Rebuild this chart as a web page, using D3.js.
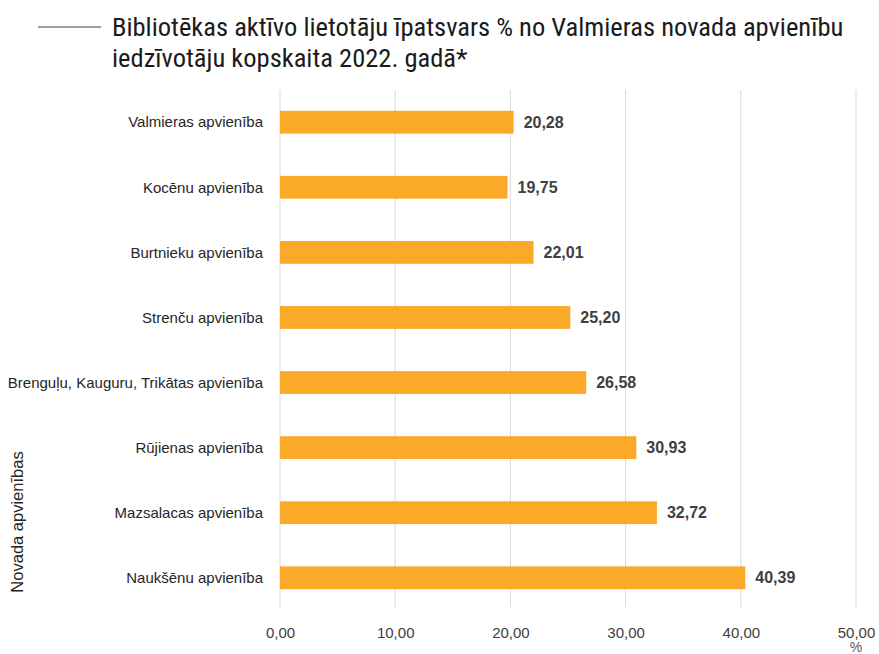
<!DOCTYPE html>
<html lang="lv">
<head>
<meta charset="UTF-8">
<title>Bibliotēkas aktīvo lietotāju īpatsvars</title>
<script src="https://d3js.org/d3.v7.min.js"></script>
<style>
    body, html { margin: 0; background: #fff; }
    svg text { font-family: "Liberation Sans", Arial, sans-serif; }
</style>
</head>
<body>
<svg id="chart" width="879" height="654"></svg>
<script>
    const categories = [
        "Valmieras apvienība",
        "Kocēnu apvienība",
        "Burtnieku apvienība",
        "Strenču apvienība",
        "Brenguļu, Kauguru, Trikātas apvienība",
        "Rūjienas apvienība",
        "Mazsalacas apvienība",
        "Naukšēnu apvienība"
    ];
    const values = [20.28, 19.75, 22.01, 25.20, 26.58, 30.93, 32.72, 40.39];
    const ticks = [0, 10, 20, 30, 40, 50];

    const svg = d3.select("#chart");
    const fmt = v => d3.format(".2f")(v).replace(".", ",");

    const x = d3.scaleLinear().domain([0, 50]).range([280, 856]);
    const y = d3.scaleBand().domain(categories).range([90, 610]).paddingInner(0.65).paddingOuter(0.32);

    // gridlines
    svg.append("g")
        .selectAll("line")
        .data(ticks)
        .join("line")
        .attr("x1", d => x(d)).attr("x2", d => x(d))
        .attr("y1", 90).attr("y2", 607)
        .attr("stroke", "#d9d9d9")
        .attr("stroke-width", 1);

    // x axis labels
    const xAxis = svg.append("g")
        .attr("transform", "translate(0,624)")
        .call(d3.axisBottom(x).tickValues(ticks).tickFormat(fmt).tickSize(0));
    xAxis.select(".domain").remove();
    xAxis.selectAll("text")
        .attr("font-size", 15)
        .attr("fill", "#404040")
        .style("font-family", "Liberation Sans, Arial, sans-serif");

    svg.append("text")
        .attr("x", 856).attr("y", 652)
        .attr("text-anchor", "middle")
        .attr("font-size", 14)
        .attr("fill", "#595959")
        .text("%");

    // bars
    svg.append("g")
        .selectAll("rect")
        .data(values)
        .join("rect")
        .attr("x", x(0))
        .attr("y", (d, i) => y(categories[i]))
        .attr("width", d => x(d) - x(0))
        .attr("height", y.bandwidth())
        .attr("fill", "#faa928");

    // value labels
    svg.append("g")
        .selectAll("text")
        .data(values)
        .join("text")
        .attr("x", d => x(d) + 10)
        .attr("y", (d, i) => y(categories[i]) + y.bandwidth() / 2)
        .attr("dy", "0.35em")
        .attr("font-size", 16)
        .attr("font-weight", "bold")
        .attr("fill", "#404040")
        .text(fmt);

    // category labels
    svg.append("g")
        .selectAll("text")
        .data(categories)
        .join("text")
        .attr("x", 263)
        .attr("y", d => y(d) + y.bandwidth() / 2)
        .attr("dy", "0.35em")
        .attr("text-anchor", "end")
        .attr("font-size", 15)
        .attr("fill", "#262626")
        .text(d => d);

    // y axis title
    svg.append("text")
        .attr("transform", "translate(23,522) rotate(-90)")
        .attr("text-anchor", "middle")
        .attr("font-size", 16.5)
        .attr("fill", "#262626")
        .text("Novada apvienības");

    // title
    svg.append("line")
        .attr("x1", 38).attr("x2", 101)
        .attr("y1", 27).attr("y2", 27)
        .attr("stroke", "#404040")
        .attr("stroke-width", 1.2);

    const title = svg.append("text")
        .attr("font-size", 26.5)
        .attr("fill", "#1a1a1a")
        .style("font-family", "'Liberation Sans Narrow', 'Roboto Condensed', Arial, sans-serif");
    title.append("tspan").attr("x", 112).attr("y", 36)
        .text("Bibliotēkas aktīvo lietotāju īpatsvars % no Valmieras novada apvienību");
    title.append("tspan").attr("x", 112).attr("y", 67)
        .text("iedzīvotāju  kopskaita 2022. gadā*");
</script>
</body>
</html>
